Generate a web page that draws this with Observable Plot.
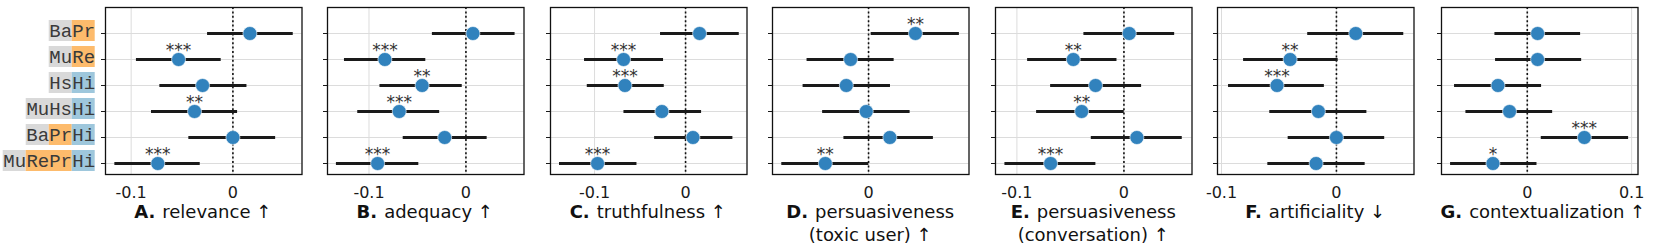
<!DOCTYPE html>
<html><head><meta charset="utf-8">
<script src="https://cdn.jsdelivr.net/npm/d3@7"></script>
<script src="https://cdn.jsdelivr.net/npm/@observablehq/plot@0.6"></script>
<style>
body{margin:0;background:#fff;}
#chart{position:relative;width:1661px;height:246px;overflow:hidden;font-family:"DejaVu Sans";}
.panel{position:absolute;top:0;}
.title{position:absolute;top:199.5px;text-align:center;font-size:18px;line-height:23px;color:#111;font-family:"DejaVu Sans";white-space:nowrap;}
.title b{margin-right:7px}
</style></head><body><div id="chart"></div>
<script>
// ---------- data ----------
const models = ["BaPr","MuRe","HsHi","MuHsHi","BaPrHi","MuRePrHi"];
const labelParts = [
  [["Ba","base"],["Pr","prompt"]],
  [["Mu","base"],["Re","prompt"]],
  [["Hs","base"],["Hi","hist"]],
  [["MuHs","base"],["Hi","hist"]],
  [["Ba","base"],["Pr","prompt"],["Hi","hist"]],
  [["Mu","base"],["RePr","prompt"],["Hi","hist"]]
];
const panelLetters = ["A.","B.","C.","D.","E.","F.","G."];
const panelTitles = [["relevance ↑"],["adequacy ↑"],["truthfulness ↑"],["persuasiveness","(toxic user) ↑"],["persuasiveness","(conversation) ↑"],["artificiality ↓"],["contextualization ↑"]];
const tickValues = [-0.1, 0, 0.1];

const relevanceEst = [0.0167, -0.0534, -0.0298, -0.0377, 0.0, -0.0738];
const relevanceLo  = [-0.0249, -0.0948, -0.0718, -0.0800, -0.0433, -0.1160];
const relevanceHi  = [0.0593, -0.0115, 0.0138, 0.0046, 0.0420, -0.0321];
const relevanceSig = ["", "***", "", "**", "", "***"];

const adequacyEst = [0.0072, -0.0836, -0.0452, -0.0688, -0.0219, -0.0911];
const adequacyLo  = [-0.0346, -0.1253, -0.0887, -0.1116, -0.0647, -0.1336];
const adequacyHi  = [0.0507, -0.0414, -0.0038, -0.0271, 0.0219, -0.0486];
const adequacySig = ["", "***", "**", "***", "", "***"];

const truthEst = [0.0154, -0.0681, -0.0666, -0.0260, 0.0081, -0.0967];
const truthLo  = [-0.0275, -0.1110, -0.1080, -0.0677, -0.0340, -0.1385];
const truthHi  = [0.0590, -0.0242, -0.0234, 0.0176, 0.0520, -0.0534];
const truthSig = ["", "***", "***", "", "", "***"];

const persToxicEst = [0.0449, -0.0172, -0.0213, -0.0022, 0.0204, -0.0414];
const persToxicLo  = [0.0025, -0.0589, -0.0627, -0.0440, -0.0236, -0.0831];
const persToxicHi  = [0.0870, 0.0245, 0.0210, 0.0398, 0.0621, 0.0003];
const persToxicSig = ["**", "", "", "", "", "**"];

const persConvEst = [0.0050, -0.0473, -0.0265, -0.0395, 0.0121, -0.0685];
const persConvLo  = [-0.0374, -0.0900, -0.0685, -0.0816, -0.0305, -0.1112];
const persConvHi  = [0.0474, -0.0065, 0.0165, 0.0003, 0.0545, -0.0262];
const persConvSig = ["", "**", "", "**", "", "***"];

const artifEst = [0.0168, -0.0403, -0.0517, -0.0157, 0.0, -0.0177];
const artifLo  = [-0.0250, -0.0808, -0.0939, -0.0580, -0.0420, -0.0597];
const artifHi  = [0.0586, 0.0015, -0.0105, 0.0265, 0.0420, 0.0250];
const artifSig = ["", "**", "***", "", "", ""];

const contextEst = [0.0099, 0.0099, -0.0281, -0.0170, 0.0547, -0.0329];
const contextLo  = [-0.0310, -0.0304, -0.0697, -0.0588, 0.0134, -0.0735];
const contextHi  = [0.0511, 0.0521, 0.0137, 0.0243, 0.0971, 0.0093];
const contextSig = ["", "", "", "", "***", "*"];

const xDomains = [[-0.1252,0.0679],[-0.1428,0.0599],[-0.1484,0.0675],[-0.092,0.0962],[-0.12,0.0636],[-0.1035,0.0675],[-0.0822,0.1061]];

// ---------- layout ----------
const frameLeft = [104.5, 326.5, 549.5, 772, 995, 1217, 1440.5];
const frameW = 196.5;
const M = 20;
const partColors = {base:"#d9d9d9", prompt:"#fdbb6c", hist:"#9ec7dc"};

const series = [
  [relevanceEst, relevanceLo, relevanceHi, relevanceSig],
  [adequacyEst, adequacyLo, adequacyHi, adequacySig],
  [truthEst, truthLo, truthHi, truthSig],
  [persToxicEst, persToxicLo, persToxicHi, persToxicSig],
  [persConvEst, persConvLo, persConvHi, persConvSig],
  [artifEst, artifLo, artifHi, artifSig],
  [contextEst, contextLo, contextHi, contextSig]
];

const chart = document.getElementById("chart");
const baseStyle = {background:"transparent", fontFamily:"DejaVu Sans", fontSize:"16px", color:"#1a1a1a", overflow:"visible"};

series.forEach(([est, lo, hi, sig], k) => {
  const data = models.map((m, i) => ({model: m, est: est[i], lo: lo[i], hi: hi[i], sig: sig[i]}));
  const dom = xDomains[k];
  const ticks = tickValues.filter(t => t >= dom[0] && t <= dom[1]);
  const plot = Plot.plot({
    width: frameW + 2 * M, height: 200,
    marginLeft: M, marginRight: M, marginTop: 7, marginBottom: 26,
    style: baseStyle,
    x: {domain: dom, ticks, tickSize: 0, tickPadding: 12, tickFormat: d => d === 0 ? "0" : String(d), label: null},
    y: {type: "point", domain: models, range: [30.7, 165], padding: 0, tickSize: 4, tickFormat: () => "", label: null},
    marks: [
      Plot.ruleX(ticks, {stroke: "#dcdcdc", strokeWidth: 1}),
      Plot.ruleY(models, {y: d => d, stroke: "#dcdcdc", strokeWidth: 1}),
      Plot.ruleX([0], {stroke: "#111", strokeWidth: 1.6, strokeDasharray: "2,2.4"}),
      Plot.ruleY(data, {y: "model", x1: "lo", x2: "hi", stroke: "#1a1a1a", strokeWidth: 3}),
      Plot.dot(data, {x: "est", y: "model", r: 7, fill: "#3182bd", stroke: "white", strokeWidth: 0.6}),
      Plot.text(data.filter(d => d.sig), {x: "est", y: "model", text: "sig", lineAnchor: "bottom", dy: -4, fontSize: 17, fill: "#333"}),
      Plot.frame({stroke: "#111", strokeWidth: 1.3})
    ]
  });
  const div = document.createElement("div");
  div.className = "panel";
  div.style.left = (frameLeft[k] - M) + "px";
  div.appendChild(plot);
  chart.appendChild(div);

  const t = document.createElement("div");
  t.className = "title";
  t.style.left = frameLeft[k] + "px";
  t.style.width = frameW + "px";
  const lines = panelTitles[k];
  t.innerHTML = `<b>${panelLetters[k]}</b>${lines[0]}` + (lines[1] ? `<br>${lines[1]}` : "");
  chart.appendChild(t);
});

// ---------- row labels ----------
const segs = [];
models.forEach((m, i) => {
  const parts = labelParts[i];
  const L = parts.reduce((a, p) => a + p[0].length, 0);
  let s = 0;
  for (const [txt, kind] of parts) {
    segs.push({model: m, text: txt, kind, x1: s - L, x2: s + txt.length - L});
    s += txt.length;
  }
});
const labelPlot = Plot.plot({
  width: 104, height: 200, margin: 0,
  style: baseStyle,
  x: {domain: [-8, 0], range: [2.7, 94.7], axis: null},
  y: {type: "band", domain: models, range: [14.8, 175.9], paddingInner: 0.18, paddingOuter: 0.09, axis: null},
  marks: [
    ...Object.keys(partColors).map(kind =>
      Plot.barX(segs.filter(d => d.kind === kind), {x1: "x1", x2: "x2", y: "model", fill: partColors[kind], inset: 0})),
    Plot.text(segs, {x: d => (d.x1 + d.x2) / 2, y: "model", text: "text", fontFamily: "Liberation Mono", fontSize: 19, fill: "#3a3a3a"})
  ]
});
const ld = document.createElement("div");
ld.className = "panel";
ld.style.left = "0px";
ld.appendChild(labelPlot);
chart.appendChild(ld);
</script>
</body></html>
